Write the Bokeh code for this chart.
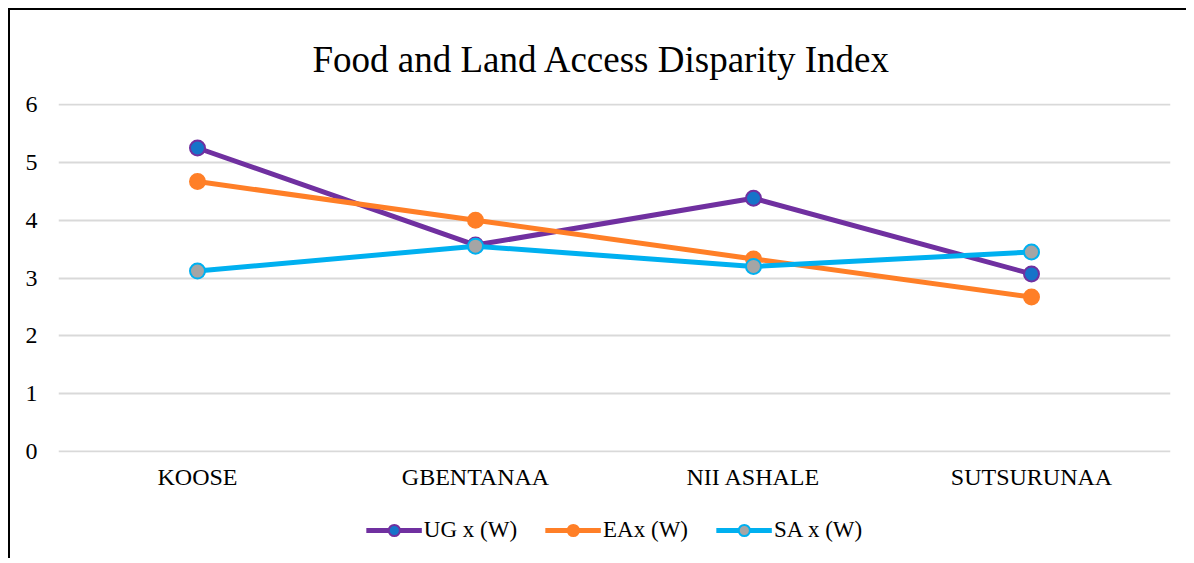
from bokeh.plotting import figure
from bokeh.layouts import column
from bokeh.models import Legend, LegendItem, FactorRange, Range1d, FixedTicker
from bokeh.embed import file_html
from bokeh.resources import INLINE

categories = ["KOOSE", "GBENTANAA", "NII ASHALE", "SUTSURUNAA"]
ug = [5.25, 3.57, 4.38, 3.07]
ea = [4.67, 4.00, 3.33, 2.67]
sa = [3.12, 3.55, 3.20, 3.45]
y_ticks = [0, 1, 2, 3, 4, 5, 6]

FONT = "Liberation Serif"

p = figure(frame_width=1112, frame_height=349,
           x_range=FactorRange(*categories), y_range=Range1d(-0.02, 6.02),
           output_backend="svg", toolbar_location=None,
           title="Food and Land Access Disparity Index",
           min_border_left=48, min_border_right=16, min_border_top=93, min_border_bottom=50)

p.title.align = "left"
p.title.offset = 254
p.title.text_font = FONT
p.title.text_font_size = "37px"
p.title.text_font_style = "normal"
p.title.text_color = "black"
p.title.standoff = 47

p.outline_line_color = None
p.xgrid.grid_line_color = None
p.ygrid.grid_line_color = "#D9D9D9"
p.ygrid.grid_line_width = 2
p.yaxis.ticker = FixedTicker(ticks=y_ticks)
for ax in (p.xaxis, p.yaxis):
    ax.axis_line_color = None
    ax.major_tick_line_color = None
    ax.minor_tick_line_color = None
    ax.major_tick_out = 0
    ax.major_tick_in = 0
    ax.minor_tick_out = 0
    ax.major_label_text_font = FONT
    ax.major_label_text_font_size = "24px"
    ax.major_label_text_color = "black"
p.yaxis.major_label_standoff = 21
p.xaxis.major_label_standoff = 11

series = [
    ("UG x (W)", ug, "#7030A0", "#1673C9", "#7030A0"),
    ("EAx (W)", ea, "#FF7F27", "#FF7F27", "#FF7F27"),
    ("SA x (W)", sa, "#00B0F0", "#A5A5A5", "#00B0F0"),
]

# legend lives in its own strip below the chart
lf = figure(width=1176, height=56, x_range=FactorRange(*categories), y_range=Range1d(100, 101),
            output_backend="svg", toolbar_location=None,
            x_axis_location=None, y_axis_location=None,
            min_border_left=0, min_border_right=0, min_border_top=0, min_border_bottom=0)
lf.outline_line_color = None
lf.grid.visible = False

items = []
for label, vals, lc, fc, oc in series:
    p.line(categories, vals, line_color=lc, line_width=5)
    p.scatter(categories, vals, size=15, fill_color=fc, line_color=oc, line_width=2)
    l = lf.line(categories, vals, line_color=lc, line_width=5)
    c = lf.scatter(categories, vals, size=15, fill_color=fc, line_color=oc, line_width=2)
    items.append(LegendItem(label=label, renderers=[l, c]))

legend = Legend(items=items, orientation="horizontal", location="center",
                label_text_font=FONT, label_text_font_size="23px", label_text_color="black",
                glyph_width=56, glyph_height=28, spacing=28, label_standoff=2,
                border_line_color=None, background_fill_alpha=0, margin=0, padding=0)
lf.add_layout(legend, "center")

layout = column(p, lf, spacing=0)
layout.styles = {"border-left": "2px solid black", "border-top": "2px solid black",
                 "margin-left": "8px", "margin-top": "8px"}

open("out.html", "w").write(file_html(layout, INLINE))
